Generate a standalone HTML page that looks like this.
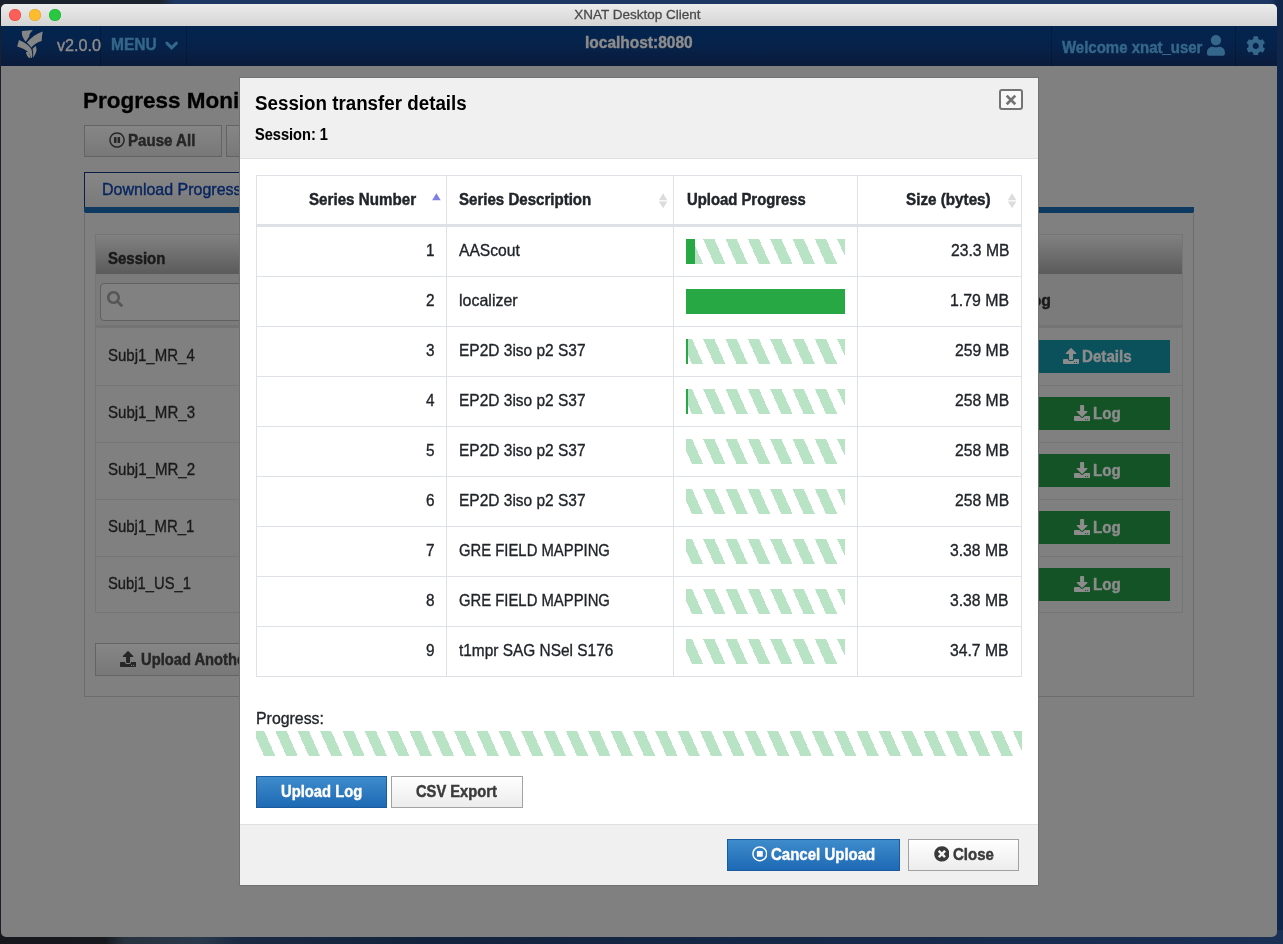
<!DOCTYPE html>
<html><head><meta charset="utf-8"><title>XNAT Desktop Client</title>
<style>
html,body{margin:0;padding:0;}
body{width:1283px;height:944px;overflow:hidden;position:relative;font-family:"Liberation Sans",sans-serif;background:#14233f;}
div,span.t,svg.a{position:absolute;box-sizing:border-box;}
span.t{white-space:pre;line-height:1;transform-origin:0 0;}
#win{will-change:transform;}

.tb{background:linear-gradient(#ececec,#d4d4d4);}
.hd{background:linear-gradient(#03254f 0%,#06224a 50%,#0b1b3b 100%);}
.btn{border:1px solid #646464;background:linear-gradient(#868686,#787878);}
.mbtn{border:1px solid #a2a2a2;background:linear-gradient(#ffffff,#ececec);}
.pbtn{border:1px solid #1a5a9e;background:linear-gradient(#3e8ccb,#1d69b5);}
.stripe{background-image:repeating-linear-gradient(65.96deg,transparent 0,transparent 5.44px,#b8e3c4 5.44px,#b8e3c4 15.64px,transparent 15.64px,transparent 20.41px);}
.hl{background:#dee2e6;}

</style></head><body>
<div style="left:0px;top:0px;width:1283px;height:944px;background:linear-gradient(90deg,#1a212c 0,#1c2430 160px,#1d3762 175px,#1d3762 1270px,#10264b 1277px,#10264b 100%);"></div>
<div style="left:0px;top:930px;width:1283px;height:14px;background:linear-gradient(90deg,#16181d 0,#17191f 105px,#28323f 125px,#2a394c 200px,#1b2a42 240px,#14233d 430px,#16294a 860px,#1a3055 1283px);"></div>
<div id="win" style="left:1px;top:4px;width:1276px;height:933px;border-radius:5px 5px 5px 5px;overflow:hidden;background:#808080;">
<div style="left:-1px;top:-4px;width:1283px;height:944px;">
<div class="tb" style="left:0px;top:4px;width:1283px;height:22px;"></div>
<div style="left:9.1px;top:9px;width:12px;height:12px;border-radius:50%;background:#fc5f57;box-shadow:inset 0 0 0 0.5px #df4840;"></div>
<div style="left:29px;top:9px;width:12px;height:12px;border-radius:50%;background:#fdbc2e;box-shadow:inset 0 0 0 0.5px #dea034;"></div>
<div style="left:49px;top:9px;width:12px;height:12px;border-radius:50%;background:#28c840;box-shadow:inset 0 0 0 0.5px #1faa2f;"></div>
<div class="hd" style="left:0px;top:26px;width:1283px;height:40px;"></div>
<div style="left:100px;top:26px;width:1px;height:40px;background:rgba(0,0,0,0.22);"></div>
<div style="left:186px;top:26px;width:1px;height:40px;background:rgba(0,0,0,0.22);"></div>
<div style="left:1051px;top:26px;width:1px;height:40px;background:rgba(0,0,0,0.22);"></div>
<div style="left:1235px;top:26px;width:1px;height:40px;background:rgba(0,0,0,0.22);"></div>
<div class="btn" style="left:84px;top:125px;width:138px;height:32px;"></div>
<div class="btn" style="left:226px;top:125px;width:138px;height:32px;"></div>
<div style="left:84px;top:172px;width:300px;height:36px;border:1px solid #0a1d44;border-bottom:none;background:linear-gradient(#868686,#7a7a7a);"></div>
<div style="left:84px;top:207px;width:1110px;height:5.8px;background:#0e3a62;"></div>
<div style="left:84px;top:212px;width:1110px;height:485px;border:1px solid #6c6c6c;border-top:none;"></div>
<div style="left:95px;top:234px;width:1088px;height:379px;border:1px solid #757575;"></div>
<div style="left:96px;top:235px;width:1086px;height:39px;background:linear-gradient(#818181,#5b5b5b);"></div>
<div style="left:96px;top:274px;width:1086px;height:51px;background:#7b7b7b;"></div>
<div style="left:96px;top:325px;width:1086px;height:3px;background:#747474;"></div>
<div style="left:100px;top:283px;width:300px;height:38px;border:1px solid #616161;border-radius:4px;background:#818181;"></div>
<div style="left:900px;top:340px;width:270px;height:33px;background:#0b515c;"></div>
<div style="left:96px;top:385px;width:1086px;height:1px;background:#767676;"></div>
<div style="left:900px;top:397px;width:270px;height:33px;background:#135326;"></div>
<div style="left:96px;top:442px;width:1086px;height:1px;background:#767676;"></div>
<div style="left:900px;top:454px;width:270px;height:33px;background:#135326;"></div>
<div style="left:96px;top:499px;width:1086px;height:1px;background:#767676;"></div>
<div style="left:900px;top:511px;width:270px;height:33px;background:#135326;"></div>
<div style="left:96px;top:556px;width:1086px;height:1px;background:#767676;"></div>
<div style="left:900px;top:568px;width:270px;height:33px;background:#135326;"></div>
<div class="btn" style="left:95px;top:643px;width:300px;height:33px;"></div>
<span class="t " style="left:574.29px;top:8.37px;font-size:13.5px;color:#4a4a4a;-webkit-text-stroke:0.28px #4a4a4a;">XNAT Desktop Client</span>
<span class="t " style="left:56.91px;top:36.93px;font-size:16.5px;color:#8c8c8c;-webkit-text-stroke:0.40px #8c8c8c;transform:scaleX(0.9815);">v2.0.0</span>
<span class="t " style="left:111.19px;top:35.83px;font-size:16.5px;color:#34678a;font-weight:700;-webkit-text-stroke:0.45px #34678a;transform:scaleX(0.9420);">MENU</span>
<span class="t " style="left:584.55px;top:35.06px;font-size:16.0px;color:#8c8c8c;font-weight:700;-webkit-text-stroke:0.44px #8c8c8c;transform:scaleX(0.9682);">localhost:8080</span>
<span class="t " style="left:1061.97px;top:38.73px;font-size:16.5px;color:#34678a;font-weight:700;-webkit-text-stroke:0.45px #34678a;transform:scaleX(0.9079);">Welcome xnat_user</span>
<span class="t " style="left:83.27px;top:90.37px;font-size:22.6px;color:#000;font-weight:700;-webkit-text-stroke:0.30px #000;transform:scaleX(0.9950);">Progress Monitor</span>
<span class="t " style="left:128.03px;top:132.03px;font-size:16.5px;color:#262626;font-weight:700;-webkit-text-stroke:0.45px #262626;transform:scaleX(0.9147);">Pause All</span>
<span class="t " style="left:101.51px;top:181.19px;font-size:16.2px;color:#06245f;-webkit-text-stroke:0.40px #06245f;transform:scaleX(0.9880);">Download Progress</span>
<span class="t " style="left:108.22px;top:249.73px;font-size:16.5px;color:#1a1a1a;font-weight:700;-webkit-text-stroke:0.45px #1a1a1a;transform:scaleX(0.9072);">Session</span>
<span class="t " style="left:1022.04px;top:291.93px;font-size:16.5px;color:#1a1a1a;font-weight:700;-webkit-text-stroke:0.45px #1a1a1a;transform:scaleX(0.9589);">Log</span>
<span class="t " style="left:108.00px;top:346.73px;font-size:16.5px;color:#1a1a1a;-webkit-text-stroke:0.34px #1a1a1a;transform:scaleX(0.9092);">Subj1_MR_4</span>
<span class="t " style="left:108.00px;top:403.73px;font-size:16.5px;color:#1a1a1a;-webkit-text-stroke:0.34px #1a1a1a;transform:scaleX(0.9121);">Subj1_MR_3</span>
<span class="t " style="left:108.00px;top:460.73px;font-size:16.5px;color:#1a1a1a;-webkit-text-stroke:0.34px #1a1a1a;transform:scaleX(0.9129);">Subj1_MR_2</span>
<span class="t " style="left:108.00px;top:517.73px;font-size:16.5px;color:#1a1a1a;-webkit-text-stroke:0.34px #1a1a1a;transform:scaleX(0.9061);">Subj1_MR_1</span>
<span class="t " style="left:108.00px;top:574.73px;font-size:16.5px;color:#1a1a1a;-webkit-text-stroke:0.34px #1a1a1a;transform:scaleX(0.8947);">Subj1_US_1</span>
<span class="t " style="left:1082.45px;top:347.53px;font-size:16.5px;color:#8c8c8c;font-weight:700;-webkit-text-stroke:0.45px #8c8c8c;transform:scaleX(0.9181);">Details</span>
<span class="t " style="left:1092.92px;top:404.73px;font-size:16.5px;color:#8c8c8c;font-weight:700;-webkit-text-stroke:0.45px #8c8c8c;transform:scaleX(0.9228);">Log</span>
<span class="t " style="left:1092.92px;top:461.73px;font-size:16.5px;color:#8c8c8c;font-weight:700;-webkit-text-stroke:0.45px #8c8c8c;transform:scaleX(0.9228);">Log</span>
<span class="t " style="left:1092.92px;top:518.73px;font-size:16.5px;color:#8c8c8c;font-weight:700;-webkit-text-stroke:0.45px #8c8c8c;transform:scaleX(0.9228);">Log</span>
<span class="t " style="left:1092.92px;top:575.73px;font-size:16.5px;color:#8c8c8c;font-weight:700;-webkit-text-stroke:0.45px #8c8c8c;transform:scaleX(0.9228);">Log</span>
<span class="t " style="left:141.12px;top:650.63px;font-size:16.5px;color:#262626;font-weight:700;-webkit-text-stroke:0.45px #262626;transform:scaleX(0.8930);">Upload Another Session</span>
<svg class="a" style="left:12px;top:26px" width="40" height="38" viewBox="0 0 40 38"><g fill="#858585">
<path d="M9.9 5 L20.9 4 Q18 6.8 17.6 8.2 L17.2 10.6 Q15.6 13.4 13.7 15.7 Q11.2 12.6 10.4 10.2 Q9.7 7.6 9.9 5Z"/>
<path d="M30.8 5.4 Q29.6 10.2 29.7 14.9 Q26.4 15.8 24 17.6 Q21.4 19.4 19.4 21.4 Q17.2 18.8 14.9 16.5 Q18.2 12.4 22.5 9.4 Q26.4 6.9 30.8 5.4Z"/>
<path d="M7 14.1 L5.2 20.5 Q9 21.6 12.2 23.3 Q15.8 25 17.2 27.4 Q18.6 29.8 18.9 32.2 L20.1 31.4 Q20.5 28.6 20 25.8 Q19.6 23.4 18.5 21.7 Q16.4 19.2 13.3 17.3 Q10.2 15.4 7 14.1Z"/>
<path d="M23.7 20.1 Q24.7 22.1 24.5 24.2 Q24.3 26.4 23.2 28.3 Q22.2 30.2 20.9 31.8 Q21.3 28.8 21.1 25.9 Q20.9 24.2 20.5 22.9 Q22 21.4 23.7 20.1Z"/>
<path d="M13.9 26.2 Q15 25.6 16.1 25.8 Q17.4 27.2 17.8 29 Q18.1 30.6 18.1 32.2 Q16.9 31.8 16.1 31 Q15 29.8 14.5 28.2 Q14.1 27.2 13.9 26.2Z"/>
</g></svg>
<svg class="a" style="left:163px;top:38px" width="18" height="15" viewBox="0 0 18 15"><path d="M3.9 5.2L8.65 9.9L13.4 5.2" stroke="#34678a" stroke-width="3.1" fill="none" stroke-linecap="round" stroke-linejoin="miter"/></svg>
<svg class="a" style="left:1207.3px;top:35.2px" width="17.9" height="20.7" viewBox="0 0 448 512" preserveAspectRatio="none"><path fill="#34678a" d="M224 256c70.700 0 128-57.300 128-128S294.700 0 224 0 96 57.300 96 128s57.300 128 128 128zm89.600 32h-16.700c-22.200 10.200-46.900 16-72.900 16s-50.600-5.800-72.900-16h-16.700C60.200 288 0 348.200 0 422.400V464c0 26.500 21.500 48 48 48h352c26.500 0 48-21.500 48-48v-41.600c0-74.200-60.200-134.400-134.400-134.400z"/></svg>
<svg class="a" style="left:1246.2px;top:35.7px" width="19.5" height="19.8" viewBox="0 0 512 512" preserveAspectRatio="none"><path fill="#34678a" d="M487.400 315.700l-42.600-24.600c4.300-23.200 4.300-47 0-70.200l42.600-24.600c4.900-2.800 7.100-8.600 5.500-14-11.100-35.600-30-67.800-54.700-94.600-3.800-4.100-10-5.100-14.800-2.300L380.800 110c-17.900-15.400-38.500-27.300-60.800-35.100V25.800c0-5.600-3.900-10.500-9.400-11.700-36.700-8.200-74.300-7.800-109.200 0-5.500 1.200-9.400 6.100-9.400 11.700V75c-22.200 7.900-42.800 19.800-60.800 35.100L88.700 85.500c-4.900-2.800-11-1.900-14.800 2.300-24.700 26.700-43.600 58.900-54.700 94.600-1.700 5.400.6 11.200 5.500 14L67.300 221c-4.300 23.200-4.300 47 0 70.200l-42.600 24.600c-4.900 2.800-7.100 8.600-5.500 14 11.100 35.600 30 67.800 54.700 94.600 3.800 4.100 10 5.100 14.800 2.300l42.600-24.600c17.900 15.400 38.500 27.300 60.800 35.100v49.200c0 5.600 3.900 10.500 9.400 11.700 36.700 8.200 74.300 7.800 109.200 0 5.500-1.200 9.400-6.100 9.400-11.700v-49.200c22.200-7.900 42.800-19.800 60.800-35.100l42.600 24.600c4.900 2.800 11 1.900 14.800-2.300 24.700-26.700 43.600-58.900 54.700-94.600 1.500-5.500-.7-11.300-5.600-14.100zM256 336c-44.100 0-80-35.900-80-80s35.900-80 80-80 80 35.900 80 80-35.900 80-80 80z"/></svg>
<svg class="a" style="left:108.95px;top:131.85px" width="16.1" height="16.1" viewBox="0 0 512 512" preserveAspectRatio="none"><path fill="#262626" d="M256 8C119 8 8 119 8 256s111 248 248 248 248-111 248-248S393 8 256 8zm0 448c-110.500 0-200-89.500-200-200S145.500 56 256 56s200 89.500 200 200-89.500 200-200 200zm96-280v160c0 8.800-7.200 16-16 16h-48c-8.800 0-16-7.200-16-16V176c0-8.800 7.200-16 16-16h48c8.800 0 16 7.200 16 16zm-112 0v160c0 8.800-7.200 16-16 16h-48c-8.800 0-16-7.200-16-16V176c0-8.800 7.200-16 16-16h48c8.800 0 16 7.200 16 16z"/></svg>
<svg class="a" style="left:106.95px;top:290.95px" width="16" height="16" viewBox="0 0 512 512" preserveAspectRatio="none"><path fill="#565656" d="M505 442.700L405.300 343c-4.500-4.500-10.600-7-17-7H372c27.600-35.300 44-79.700 44-128C416 93.100 322.900 0 208 0S0 93.100 0 208s93.100 208 208 208c48.300 0 92.700-16.400 128-44v16.300c0 6.400 2.500 12.500 7 17l99.700 99.700c9.400 9.400 24.600 9.400 33.900 0l28.300-28.300c9.400-9.400 9.400-24.600.1-34zM208 336c-70.700 0-128-57.200-128-128 0-70.700 57.200-128 128-128 70.700 0 128 57.200 128 128 0 70.700-57.200 128-128 128z"/></svg>
<svg class="a" style="left:1062.5px;top:347.9px" width="16.1" height="16" viewBox="0 0 512 512" preserveAspectRatio="none"><path fill="#8c8c8c" d="M296 384h-80c-13.3 0-24-10.7-24-24V192h-87.7c-17.8 0-26.7-21.5-14.1-34.1L242.3 5.7c7.5-7.5 19.8-7.5 27.3 0l152.2 152.2c12.6 12.6 3.7 34.1-14.1 34.1H320v168c0 13.3-10.7 24-24 24zm216-8v112c0 13.3-10.7 24-24 24H24c-13.3 0-24-10.7-24-24V376c0-13.3 10.7-24 24-24h136v8c0 30.9 25.1 56 56 56h80c30.9 0 56-25.1 56-56v-8h136c13.3 0 24 10.7 24 24zm-124 88c0-11-9-20-20-20s-20 9-20 20 9 20 20 20 20-9 20-20zm64 0c0-11-9-20-20-20s-20 9-20 20 9 20 20 20 20-9 20-20z"/></svg>
<svg class="a" style="left:1073.8px;top:405.1px" width="16.2" height="16" viewBox="0 0 512 512" preserveAspectRatio="none"><path fill="#8c8c8c" d="M216 0h80c13.3 0 24 10.7 24 24v168h87.7c17.8 0 26.7 21.5 14.1 34.1L269.7 378.3c-7.5 7.5-19.8 7.5-27.3 0L90.100 226.100c-12.600-12.600-3.700-34.100 14.100-34.100H192V24c0-13.300 10.700-24 24-24zm296 376v112c0 13.300-10.700 24-24 24H24c-13.300 0-24-10.700-24-24V376c0-13.300 10.700-24 24-24h146.700l49 49c20.100 20.100 52.500 20.100 72.600 0l49-49H488c13.300 0 24 10.700 24 24zm-124 88c0-11-9-20-20-20s-20 9-20 20 9 20 20 20 20-9 20-20zm64 0c0-11-9-20-20-20s-20 9-20 20 9 20 20 20 20-9 20-20z"/></svg>
<svg class="a" style="left:1073.8px;top:462.1px" width="16.2" height="16" viewBox="0 0 512 512" preserveAspectRatio="none"><path fill="#8c8c8c" d="M216 0h80c13.3 0 24 10.7 24 24v168h87.7c17.8 0 26.7 21.5 14.1 34.1L269.7 378.3c-7.5 7.5-19.8 7.5-27.3 0L90.100 226.100c-12.600-12.600-3.700-34.100 14.100-34.100H192V24c0-13.300 10.700-24 24-24zm296 376v112c0 13.300-10.700 24-24 24H24c-13.300 0-24-10.700-24-24V376c0-13.300 10.700-24 24-24h146.700l49 49c20.100 20.100 52.500 20.100 72.600 0l49-49H488c13.300 0 24 10.700 24 24zm-124 88c0-11-9-20-20-20s-20 9-20 20 9 20 20 20 20-9 20-20zm64 0c0-11-9-20-20-20s-20 9-20 20 9 20 20 20 20-9 20-20z"/></svg>
<svg class="a" style="left:1073.8px;top:519.1px" width="16.2" height="16" viewBox="0 0 512 512" preserveAspectRatio="none"><path fill="#8c8c8c" d="M216 0h80c13.3 0 24 10.7 24 24v168h87.7c17.8 0 26.7 21.5 14.1 34.1L269.7 378.3c-7.5 7.5-19.8 7.5-27.3 0L90.100 226.100c-12.600-12.600-3.700-34.100 14.100-34.100H192V24c0-13.300 10.700-24 24-24zm296 376v112c0 13.300-10.700 24-24 24H24c-13.300 0-24-10.700-24-24V376c0-13.300 10.700-24 24-24h146.700l49 49c20.100 20.100 52.500 20.100 72.600 0l49-49H488c13.300 0 24 10.700 24 24zm-124 88c0-11-9-20-20-20s-20 9-20 20 9 20 20 20 20-9 20-20zm64 0c0-11-9-20-20-20s-20 9-20 20 9 20 20 20 20-9 20-20z"/></svg>
<svg class="a" style="left:1073.8px;top:576.1px" width="16.2" height="16" viewBox="0 0 512 512" preserveAspectRatio="none"><path fill="#8c8c8c" d="M216 0h80c13.3 0 24 10.7 24 24v168h87.7c17.8 0 26.7 21.5 14.1 34.1L269.7 378.3c-7.5 7.5-19.8 7.5-27.3 0L90.100 226.100c-12.600-12.600-3.700-34.100 14.100-34.100H192V24c0-13.300 10.700-24 24-24zm296 376v112c0 13.300-10.700 24-24 24H24c-13.300 0-24-10.700-24-24V376c0-13.300 10.700-24 24-24h146.700l49 49c20.100 20.100 52.500 20.100 72.600 0l49-49H488c13.300 0 24 10.700 24 24zm-124 88c0-11-9-20-20-20s-20 9-20 20 9 20 20 20 20-9 20-20zm64 0c0-11-9-20-20-20s-20 9-20 20 9 20 20 20 20-9 20-20z"/></svg>
<svg class="a" style="left:119.9px;top:651.2px" width="16.1" height="15.9" viewBox="0 0 512 512" preserveAspectRatio="none"><path fill="#262626" d="M296 384h-80c-13.3 0-24-10.7-24-24V192h-87.7c-17.8 0-26.7-21.5-14.1-34.1L242.3 5.7c7.5-7.5 19.8-7.5 27.3 0l152.2 152.2c12.6 12.6 3.7 34.1-14.1 34.1H320v168c0 13.3-10.7 24-24 24zm216-8v112c0 13.3-10.7 24-24 24H24c-13.3 0-24-10.7-24-24V376c0-13.3 10.7-24 24-24h136v8c0 30.9 25.1 56 56 56h80c30.9 0 56-25.1 56-56v-8h136c13.3 0 24 10.7 24 24zm-124 88c0-11-9-20-20-20s-20 9-20 20 9 20 20 20 20-9 20-20zm64 0c0-11-9-20-20-20s-20 9-20 20 9 20 20 20 20-9 20-20z"/></svg>
<div style="left:239px;top:77px;width:800px;height:809px;border:1px solid #727272;background:#fff;overflow:hidden;"><div style="left:-240px;top:-78px;width:1283px;height:944px;"><div style="left:240px;top:78px;width:798px;height:80px;background:#f0f0f0;"></div>
<div style="left:240px;top:158px;width:798px;height:1px;background:#e0e0e0;"></div>
<div style="left:240px;top:824px;width:798px;height:1px;background:#e0e0e0;"></div>
<div style="left:240px;top:825px;width:798px;height:60px;background:#f0f0f0;"></div>
<div style="left:999px;top:89.2px;width:24px;height:21.2px;border:2px solid #747474;border-radius:3px;background:#f8f8f8;"></div>
<svg class="a" style="left:1005px;top:94px" width="12" height="12" viewBox="0 0 12 12"><path d="M1.7 1.6L10.3 10.2M10.3 1.6L1.7 10.2" stroke="#747474" stroke-width="2.7" fill="none"/></svg>
<div class="hl" style="left:256px;top:175px;width:766px;height:1px;"></div>
<div class="hl" style="left:256px;top:224px;width:766px;height:2.6px;"></div>
<div class="hl" style="left:256px;top:276px;width:766px;height:1px;"></div>
<div class="hl" style="left:256px;top:326px;width:766px;height:1px;"></div>
<div class="hl" style="left:256px;top:376px;width:766px;height:1px;"></div>
<div class="hl" style="left:256px;top:426px;width:766px;height:1px;"></div>
<div class="hl" style="left:256px;top:476px;width:766px;height:1px;"></div>
<div class="hl" style="left:256px;top:526px;width:766px;height:1px;"></div>
<div class="hl" style="left:256px;top:576px;width:766px;height:1px;"></div>
<div class="hl" style="left:256px;top:626px;width:766px;height:1px;"></div>
<div class="hl" style="left:256px;top:676px;width:766px;height:1px;"></div>
<div class="hl" style="left:256px;top:175px;width:1px;height:502px;"></div>
<div class="hl" style="left:446px;top:175px;width:1px;height:502px;"></div>
<div class="hl" style="left:673px;top:175px;width:1px;height:502px;"></div>
<div class="hl" style="left:857px;top:175px;width:1px;height:502px;"></div>
<div class="hl" style="left:1021px;top:175px;width:1px;height:502px;"></div>
<svg class="a" style="left:431px;top:192px" width="11" height="10" viewBox="0 0 11 10"><path d="M1.1 8.3L5.4 1.3L9.7 8.3Z" fill="#7f7fe6"/></svg>
<svg class="a" style="left:658.4px;top:192px" width="11" height="17" viewBox="0 0 11 17"><path d="M0.9 8.2L5.1 1.2L9.3 8.2Z" fill="#dcdcdc"/><path d="M0.9 9.4L5.1 16.2L9.3 9.4Z" fill="#dcdcdc"/></svg>
<svg class="a" style="left:1006.5px;top:192px" width="11" height="17" viewBox="0 0 11 17"><path d="M0.9 8.2L5.1 1.2L9.3 8.2Z" fill="#dcdcdc"/><path d="M0.9 9.4L5.1 16.2L9.3 9.4Z" fill="#dcdcdc"/></svg>
<div class="stripe" style="left:686px;top:239px;width:159px;height:25px;"></div>
<div style="left:686px;top:239px;width:9px;height:25px;background:#28a745;"></div>
<div class="stripe" style="left:686px;top:289px;width:159px;height:25px;"></div>
<div style="left:686px;top:289px;width:159px;height:25px;background:#28a745;"></div>
<div class="stripe" style="left:686px;top:339px;width:159px;height:25px;"></div>
<div style="left:686px;top:339px;width:1.5px;height:25px;background:#28a745;"></div>
<div class="stripe" style="left:686px;top:389px;width:159px;height:25px;"></div>
<div style="left:686px;top:389px;width:1.5px;height:25px;background:#28a745;"></div>
<div class="stripe" style="left:686px;top:439px;width:159px;height:25px;"></div>
<div class="stripe" style="left:686px;top:489px;width:159px;height:25px;"></div>
<div class="stripe" style="left:686px;top:539px;width:159px;height:25px;"></div>
<div class="stripe" style="left:686px;top:589px;width:159px;height:25px;"></div>
<div class="stripe" style="left:686px;top:639px;width:159px;height:25px;"></div>
<div style="left:256px;top:731px;width:766px;height:24.5px;background-image:repeating-linear-gradient(65.96deg,transparent 0,transparent 7.44px,#b8e3c4 7.44px,#b8e3c4 17.64px,transparent 17.64px,transparent 20.41px);"></div>
<div class="pbtn" style="left:256px;top:776px;width:131px;height:32px;"></div>
<div class="mbtn" style="left:391px;top:776px;width:132px;height:32px;"></div>
<div class="pbtn" style="left:727px;top:839px;width:173px;height:32px;"></div>
<div class="mbtn" style="left:908px;top:839px;width:111px;height:32px;"></div>
<span class="t " style="left:255.32px;top:93.08px;font-size:20.7px;color:#000;font-weight:700;transform:scaleX(0.9069);">Session transfer details</span>
<span class="t " style="left:255.38px;top:127.31px;font-size:15.7px;color:#000;font-weight:700;-webkit-text-stroke:0.10px #000;transform:scaleX(0.9298);">Session: 1</span>
<span class="t " style="left:308.90px;top:190.83px;font-size:16.5px;color:#212529;font-weight:700;-webkit-text-stroke:0.45px #212529;transform:scaleX(0.9190);">Series Number</span>
<span class="t " style="left:458.95px;top:190.83px;font-size:16.5px;color:#212529;font-weight:700;-webkit-text-stroke:0.45px #212529;transform:scaleX(0.9129);">Series Description</span>
<span class="t " style="left:686.68px;top:190.83px;font-size:16.5px;color:#212529;font-weight:700;-webkit-text-stroke:0.45px #212529;transform:scaleX(0.9000);">Upload Progress</span>
<span class="t " style="left:905.93px;top:190.83px;font-size:16.5px;color:#212529;font-weight:700;-webkit-text-stroke:0.45px #212529;transform:scaleX(0.9234);">Size (bytes)</span>
<span class="t " style="left:425.97px;top:241.83px;font-size:16.5px;color:#212529;-webkit-text-stroke:0.34px #212529;transform:scaleX(0.9300);">1</span>
<span class="t " style="left:459.00px;top:241.83px;font-size:16.5px;color:#212529;-webkit-text-stroke:0.34px #212529;transform:scaleX(0.9478);">AAScout</span>
<span class="t " style="left:950.58px;top:241.83px;font-size:16.5px;color:#212529;-webkit-text-stroke:0.34px #212529;transform:scaleX(0.9507);">23.3 MB</span>
<span class="t " style="left:425.97px;top:291.83px;font-size:16.5px;color:#212529;-webkit-text-stroke:0.34px #212529;transform:scaleX(0.9300);">2</span>
<span class="t " style="left:459.00px;top:291.83px;font-size:16.5px;color:#212529;-webkit-text-stroke:0.34px #212529;transform:scaleX(0.9692);">localizer</span>
<span class="t " style="left:949.84px;top:291.83px;font-size:16.5px;color:#212529;-webkit-text-stroke:0.34px #212529;transform:scaleX(0.9627);">1.79 MB</span>
<span class="t " style="left:425.97px;top:341.83px;font-size:16.5px;color:#212529;-webkit-text-stroke:0.34px #212529;transform:scaleX(0.9300);">3</span>
<span class="t " style="left:459.00px;top:341.83px;font-size:16.5px;color:#212529;-webkit-text-stroke:0.34px #212529;transform:scaleX(0.9388);">EP2D 3iso p2 S37</span>
<span class="t " style="left:954.85px;top:341.83px;font-size:16.5px;color:#212529;-webkit-text-stroke:0.34px #212529;transform:scaleX(0.9522);">259 MB</span>
<span class="t " style="left:425.97px;top:391.83px;font-size:16.5px;color:#212529;-webkit-text-stroke:0.34px #212529;transform:scaleX(0.9300);">4</span>
<span class="t " style="left:459.00px;top:391.83px;font-size:16.5px;color:#212529;-webkit-text-stroke:0.34px #212529;transform:scaleX(0.9388);">EP2D 3iso p2 S37</span>
<span class="t " style="left:954.85px;top:391.83px;font-size:16.5px;color:#212529;-webkit-text-stroke:0.34px #212529;transform:scaleX(0.9522);">258 MB</span>
<span class="t " style="left:425.97px;top:441.83px;font-size:16.5px;color:#212529;-webkit-text-stroke:0.34px #212529;transform:scaleX(0.9300);">5</span>
<span class="t " style="left:459.00px;top:441.83px;font-size:16.5px;color:#212529;-webkit-text-stroke:0.34px #212529;transform:scaleX(0.9388);">EP2D 3iso p2 S37</span>
<span class="t " style="left:954.85px;top:441.83px;font-size:16.5px;color:#212529;-webkit-text-stroke:0.34px #212529;transform:scaleX(0.9522);">258 MB</span>
<span class="t " style="left:425.97px;top:491.83px;font-size:16.5px;color:#212529;-webkit-text-stroke:0.34px #212529;transform:scaleX(0.9300);">6</span>
<span class="t " style="left:459.00px;top:491.83px;font-size:16.5px;color:#212529;-webkit-text-stroke:0.34px #212529;transform:scaleX(0.9388);">EP2D 3iso p2 S37</span>
<span class="t " style="left:954.85px;top:491.83px;font-size:16.5px;color:#212529;-webkit-text-stroke:0.34px #212529;transform:scaleX(0.9522);">258 MB</span>
<span class="t " style="left:425.97px;top:541.83px;font-size:16.5px;color:#212529;-webkit-text-stroke:0.34px #212529;transform:scaleX(0.9300);">7</span>
<span class="t " style="left:459.00px;top:541.83px;font-size:16.5px;color:#212529;-webkit-text-stroke:0.34px #212529;transform:scaleX(0.8995);">GRE FIELD MAPPING</span>
<span class="t " style="left:950.43px;top:541.83px;font-size:16.5px;color:#212529;-webkit-text-stroke:0.34px #212529;transform:scaleX(0.9531);">3.38 MB</span>
<span class="t " style="left:425.97px;top:591.83px;font-size:16.5px;color:#212529;-webkit-text-stroke:0.34px #212529;transform:scaleX(0.9300);">8</span>
<span class="t " style="left:459.00px;top:591.83px;font-size:16.5px;color:#212529;-webkit-text-stroke:0.34px #212529;transform:scaleX(0.8995);">GRE FIELD MAPPING</span>
<span class="t " style="left:950.43px;top:591.83px;font-size:16.5px;color:#212529;-webkit-text-stroke:0.34px #212529;transform:scaleX(0.9531);">3.38 MB</span>
<span class="t " style="left:425.97px;top:641.83px;font-size:16.5px;color:#212529;-webkit-text-stroke:0.34px #212529;transform:scaleX(0.9300);">9</span>
<span class="t " style="left:459.00px;top:641.83px;font-size:16.5px;color:#212529;-webkit-text-stroke:0.34px #212529;transform:scaleX(0.9349);">t1mpr SAG NSel S176</span>
<span class="t " style="left:950.43px;top:641.83px;font-size:16.5px;color:#212529;-webkit-text-stroke:0.34px #212529;transform:scaleX(0.9531);">34.7 MB</span>
<span class="t " style="left:256.48px;top:710.13px;font-size:16.5px;color:#212529;-webkit-text-stroke:0.34px #212529;transform:scaleX(0.9628);">Progress:</span>
<span class="t " style="left:280.99px;top:783.03px;font-size:16.5px;color:#fff;font-weight:700;-webkit-text-stroke:0.45px #fff;transform:scaleX(0.8963);text-shadow:0 -0.5px 0.5px rgba(0,30,80,0.45);">Upload Log</span>
<span class="t " style="left:416.40px;top:783.03px;font-size:16.5px;color:#3a3a3a;font-weight:700;-webkit-text-stroke:0.45px #3a3a3a;transform:scaleX(0.8906);">CSV Export</span>
<span class="t " style="left:771.48px;top:845.93px;font-size:16.5px;color:#fff;font-weight:700;-webkit-text-stroke:0.45px #fff;transform:scaleX(0.9098);text-shadow:0 -0.5px 0.5px rgba(0,30,80,0.45);">Cancel Upload</span>
<span class="t " style="left:953.39px;top:845.73px;font-size:16.5px;color:#3a3a3a;font-weight:700;-webkit-text-stroke:0.45px #3a3a3a;transform:scaleX(0.9080);">Close</span>
<svg class="a" style="left:751.8px;top:846.05px" width="15.65" height="15.65" viewBox="0 0 512 512" preserveAspectRatio="none"><path fill="#fff" d="M504 256C504 119 393 8 256 8S8 119 8 256s111 248 248 248 248-111 248-248zm-448 0c0-110.500 89.500-200 200-200s200 89.500 200 200-89.500 200-200 200S56 366.500 56 256zm296-80v160c0 8.800-7.200 16-16 16H176c-8.800 0-16-7.200-16-16V176c0-8.800 7.200-16 16-16h160c8.800 0 16 7.200 16 16z"/></svg>
<svg class="a" style="left:933.55px;top:845.95px" width="15.8" height="15.8" viewBox="0 0 512 512" preserveAspectRatio="none"><path fill="#3a3a3a" d="M256 8C119 8 8 119 8 256s111 248 248 248 248-111 248-248S393 8 256 8zm121.6 313.100c4.700 4.700 4.700 12.300 0 17L338 377.600c-4.700 4.700-12.300 4.700-17 0L256 312l-65.100 65.600c-4.700 4.700-12.300 4.700-17 0L134.400 338c-4.700-4.700-4.700-12.300 0-17l65.600-65-65.600-65.100c-4.700-4.700-4.700-12.300 0-17l39.600-39.600c4.700-4.700 12.300-4.700 17 0l65 65.700 65.100-65.600c4.700-4.700 12.300-4.700 17 0l39.600 39.600c4.700 4.700 4.700 12.300 0 17L312 256l65.600 65.100z"/></svg></div></div>
</div></div>
</body></html>
